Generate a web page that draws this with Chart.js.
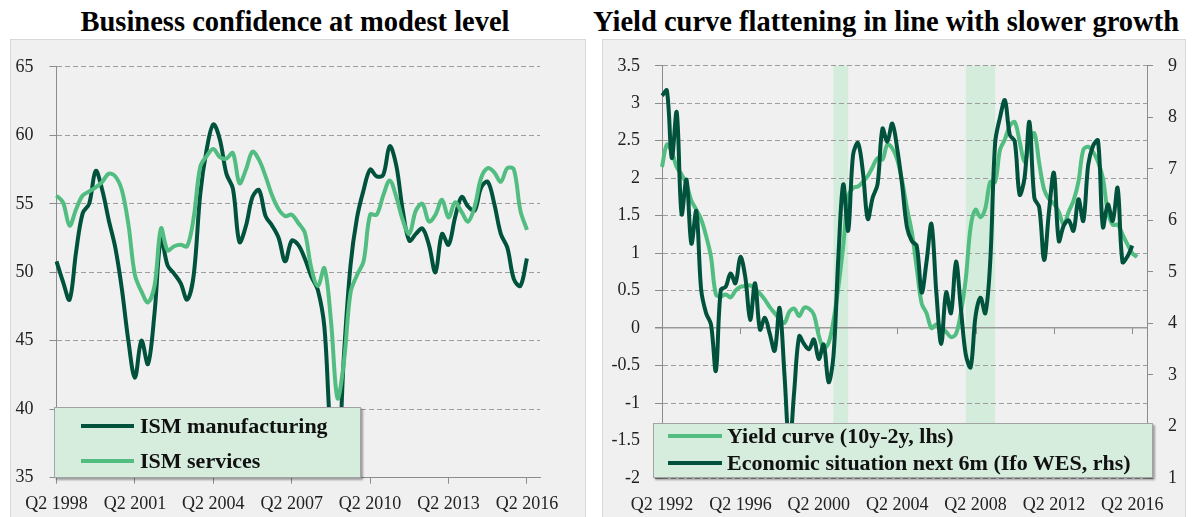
<!DOCTYPE html>
<html>
<head>
<meta charset="utf-8">
<script src="https://cdn.jsdelivr.net/npm/chart.js@4.4.1/dist/chart.umd.min.js"></script>
<style>
  body { margin: 0; width: 1193px; height: 517px; background: #fff; position: relative; overflow: hidden; font-family: "Liberation Serif", serif; }
  .title { position: absolute; top: 8px; font-size: 28.5px; line-height: 28.5px; font-weight: bold; color: #000; white-space: nowrap; transform: translateX(-50%); }
  .panel { position: absolute; background: #f0f0f0; border: 1px solid #d9d9d9; }
  .panel canvas { position: absolute; left: 0; top: 0; }
  .legend { position: absolute; background: #d6ecdd; border: 1px solid #a3a3a3; box-shadow: 2px 2px 2px rgba(0,0,0,0.35); box-sizing: border-box; }
  .legend .row { position: absolute; left: 0; height: 26px; line-height: 26px; white-space: nowrap; font-size: 22px; font-weight: bold; color: #111; }
  .legend .swatch { position: absolute; top: 11px; height: 4px; }
  .legend .text { position: absolute; top: 0; }
</style>
</head>
<body>

<div class="title" style="left:295px">Business confidence at modest level</div>
<div class="title" style="left:886px">Yield curve flattening in line with slower growth</div>

<div class="panel" style="left:10px; top:39px; width:574px; height:478px;">
  <canvas id="ismChart" width="574" height="477"></canvas>
</div>
<div class="panel" style="left:602px; top:39px; width:582px; height:478px;">
  <canvas id="wesChart" width="582" height="477"></canvas>
</div>

<div class="legend" id="ismLegend" style="left:54px; top:407px; width:307px; height:71px;"></div>
<div class="legend" id="wesLegend" style="left:653px; top:423px; width:500px; height:55px;"></div>

<script>
const DARK = '#00523d';
const LIGHT = '#52bd80';
const GRID = '#9d9d9d';
const AXIS = '#8c8c8c';
const TICK_TEXT = '#222';

function quarterLabels(year, quarter, count) {
  const out = [];
  for (let i = 0; i < count; i++) {
    out.push('Q' + quarter + ' ' + year);
    quarter++;
    if (quarter > 4) { quarter = 1; year++; }
  }
  return out;
}

// left chart: ISM, quarterly from Q2 1998
const ismQuarters = quarterLabels(1998, 2, 75);
const ismTickLabels = ['Q2 1998', 'Q2 2001', 'Q2 2004', 'Q2 2007', 'Q2 2010', 'Q2 2013', 'Q2 2016'];
const ismManufacturing = [
  50.8, 49.3, 48.0, 51.5, 54.3, 55.0, 57.4, 56.0, 53.8, 51.8,
  48.8, 45.0, 42.3, 45.0, 43.3, 47.0, 52.5, 50.5, 49.9, 49.2,
  48.0, 49.8, 55.7, 59.0, 60.8, 59.7, 57.2, 56.1, 52.2, 53.4,
  55.5, 56.0, 54.1, 53.4, 52.5, 50.8, 52.3, 52.0, 51.0, 49.7,
  48.7, 46.0, 38.0, 35.5, 44.0, 50.5, 54.0, 56.0, 57.5, 57.0,
  57.1, 59.2, 57.8, 54.5, 52.3, 52.8, 53.2, 52.0, 50.0, 52.8,
  52.0, 54.0, 55.5, 54.8, 54.5, 56.2, 56.6, 55.0, 52.8, 51.8,
  49.5, 49.0, 51.0
];
const ismServices = [
  55.6, 55.1, 53.4, 54.6, 55.6, 55.9, 56.2, 56.6, 57.2, 57.0,
  56.0, 53.5, 49.8, 48.6, 47.8, 49.0, 53.2, 51.6, 51.9, 52.0,
  51.9, 54.0, 57.7, 58.5, 59.0, 58.4, 58.3, 58.7, 56.5, 57.5,
  58.8, 58.2, 57.0, 55.6, 54.6, 54.1, 54.2, 53.6, 52.9, 50.3,
  49.0, 50.3, 46.5, 40.8, 43.5, 48.5, 49.8, 50.8, 54.2, 54.2,
  55.6, 56.7, 55.5, 53.8, 52.8, 54.5, 55.0, 53.7, 54.2, 55.3,
  54.0, 55.1, 54.4, 53.7, 54.8, 56.9, 57.6, 57.3, 56.6, 57.6,
  57.5, 54.5, 53.1
];

// right chart: yield curve vs Ifo WES, quarterly from Q2 1992
const wesQuarters = quarterLabels(1992, 2, 100);
const wesTickLabels = ['Q2 1992', 'Q2 1996', 'Q2 2000', 'Q2 2004', 'Q2 2008', 'Q2 2012', 'Q2 2016'];
const recessionStart = ['Q1 2001', 'Q4 2007'];
const recessionEnd = ['Q4 2001', 'Q2 2009'];
const yieldCurve = [
  2.15, 2.45, 2.35, 2.15, 2.05, 1.92, 1.70, 1.58, 1.45, 1.23,
  0.95, 0.45, 0.42, 0.45, 0.41, 0.50, 0.55, 0.56, 0.57, 0.52,
  0.46, 0.38, 0.28, 0.20, 0.12, 0.07, 0.22, 0.26, 0.16, 0.27,
  0.26, 0.18, -0.10, -0.27, -0.20, 0.10, 0.55, 1.10, 1.75, 1.87,
  1.89, 1.95, 2.03, 2.15, 2.27, 2.25, 2.45, 2.40, 2.25, 1.97,
  1.60, 1.28, 0.80, 0.33, 0.20, 0.00, 0.05, 0.02, -0.05, -0.12,
  -0.08, 0.20, 0.65, 1.35, 1.58, 1.48, 1.60, 1.95, 1.95, 2.38,
  2.52, 2.70, 2.75, 2.49, 2.22, 2.45, 2.60, 2.20, 1.85, 1.72,
  1.66, 1.55, 1.38, 1.55, 1.70, 1.95, 2.38, 2.42, 2.35, 2.22,
  2.00, 1.55, 1.38, 1.38, 1.25, 1.12, 1.00, 0.95
];
const ifoWes = [
  8.42, 8.52, 7.21, 8.10, 6.12, 6.79, 5.55, 6.18, 4.65, 4.20,
  3.98, 3.08, 4.65, 4.71, 4.97, 4.78, 5.29, 4.90, 4.07, 4.78,
  3.88, 4.11, 3.80, 3.47, 4.30, 3.00, 1.60, 2.70, 3.75, 3.60,
  3.50, 3.69, 3.31, 3.59, 2.86, 3.37, 5.29, 6.70, 5.80, 7.27,
  7.50, 6.95, 6.03, 6.44, 6.70, 7.78, 7.53, 7.88, 7.40, 6.70,
  5.87, 5.60, 5.50, 4.60, 5.20, 5.93, 4.60, 3.60, 4.60, 4.20,
  5.20, 4.30, 3.40, 3.15, 4.14, 4.50, 4.20, 5.20, 7.50, 8.00,
  8.33, 7.66, 7.53, 6.50, 6.82, 7.91, 6.44, 6.25, 5.23, 6.18,
  6.92, 5.60, 5.90, 6.00, 5.80, 6.41, 5.99, 7.08, 7.45, 7.55,
  5.87, 6.31, 5.99, 6.63, 5.19, 5.30, 5.51
];

const tickFont = { family: '"Liberation Serif", serif', size: 18 };

function lineSet(label, data, color, order, axis) {
  return {
    label: label,
    data: data,
    borderColor: color,
    backgroundColor: color,
    borderWidth: 4,
    pointRadius: 0,
    tension: 0.35,
    fill: false,
    order: order,
    yAxisID: axis || 'y'
  };
}

function onlyTicks(list) {
  return function (value) {
    const lbl = this.getLabelForValue(value);
    return list.includes(lbl) ? lbl : null;
  };
}

// shaded recession bands, drawn before the grid
const bandsPlugin = {
  id: 'bands',
  beforeDraw(chart) {
    const x = chart.scales.x;
    const area = chart.chartArea;
    const ctx = chart.ctx;
    ctx.save();
    ctx.fillStyle = '#d4ecdc';
    for (let i = 0; i < recessionStart.length; i++) {
      const x1 = x.getPixelForValue(wesQuarters.indexOf(recessionStart[i]));
      const x2 = x.getPixelForValue(wesQuarters.indexOf(recessionEnd[i]));
      ctx.fillRect(x1, area.top, x2 - x1, area.bottom - area.top);
    }
    ctx.restore();
  }
};

// x tick marks sit on the zero line of the left axis
const zeroTicksPlugin = {
  id: 'zeroTicks',
  beforeDatasetsDraw(chart) {
    const x = chart.scales.x;
    const y0 = chart.scales.y.getPixelForValue(0);
    const ctx = chart.ctx;
    ctx.save();
    ctx.strokeStyle = AXIS;
    ctx.lineWidth = 1;
    wesTickLabels.forEach(l => {
      const px = Math.round(x.getPixelForValue(wesQuarters.indexOf(l))) + 0.5;
      ctx.beginPath();
      ctx.moveTo(px, y0);
      ctx.lineTo(px, y0 + 6);
      ctx.stroke();
    });
    ctx.restore();
  }
};

new Chart(document.getElementById('ismChart'), {
  type: 'line',
  data: {
    labels: ismQuarters,
    datasets: [
      lineSet('ISM manufacturing', ismManufacturing, DARK, 1),
      lineSet('ISM services', ismServices, LIGHT, 0)
    ]
  },
  options: {
    responsive: false,
    animation: false,
    layout: { padding: { top: 20.7, right: 45, left: 0, bottom: 0 } },
    plugins: { legend: { display: false }, tooltip: { enabled: false } },
    scales: {
      x: {
        ticks: { autoSkip: false, maxRotation: 0, font: tickFont, color: TICK_TEXT, padding: 10, callback: onlyTicks(ismTickLabels) },
        grid: { drawOnChartArea: false, tickLength: 6, color: AXIS },
        border: { color: AXIS, width: 1 },
        afterFit(s) { s.height = 39.3; }
      },
      y: {
        min: 35, max: 65,
        ticks: { stepSize: 5, font: tickFont, color: TICK_TEXT, padding: 16 },
        grid: {
          color: c => (c.tick && c.tick.value === 35) ? 'rgba(0,0,0,0)' : GRID,
          tickColor: AXIS, tickLength: 7, lineWidth: 1
        },
        border: { color: AXIS, width: 1, dash: [5, 3] },
        afterFit(s) { s.width = 45.5; }
      }
    }
  }
});

new Chart(document.getElementById('wesChart'), {
  type: 'line',
  data: {
    labels: wesQuarters,
    datasets: [
      lineSet('Yield curve (10y-2y, lhs)', yieldCurve, LIGHT, 1, 'y'),
      lineSet('Economic situation next 6m (Ifo WES, rhs)', ifoWes, DARK, 0, 'y1')
    ]
  },
  options: {
    responsive: false,
    animation: false,
    layout: { padding: { top: 20, right: 0, left: 0, bottom: 0 } },
    plugins: { legend: { display: false }, tooltip: { enabled: false } },
    scales: {
      x: {
        ticks: { autoSkip: false, maxRotation: 0, font: tickFont, color: TICK_TEXT, padding: 16, callback: onlyTicks(wesTickLabels) },
        grid: { display: false, drawTicks: false },
        border: { display: false },
        afterFit(s) { s.height = 39; }
      },
      y: {
        position: 'left',
        min: -2, max: 3.5,
        ticks: { stepSize: 0.5, font: tickFont, color: TICK_TEXT, padding: 15, callback: v => String(v) },
        grid: {
          color: c => (c.tick && c.tick.value === 0) ? '#9a9a9a' : GRID,
          lineWidth: c => (c.tick && c.tick.value === 0) ? 1.5 : 1,
          tickColor: AXIS, tickLength: 7
        },
        border: { color: AXIS, width: 1, dash: c => (c.tick && c.tick.value === 0) ? [] : [5, 3] },
        afterFit(s) { s.width = 59; }
      },
      y1: {
        position: 'right',
        min: 1, max: 9,
        ticks: { stepSize: 1, font: tickFont, color: TICK_TEXT, padding: 15 },
        grid: { drawOnChartArea: false, tickLength: 6, color: AXIS },
        border: { color: AXIS, width: 1 },
        afterFit(s) { s.width = 38; }
      }
    }
  },
  plugins: [bandsPlugin, zeroTicksPlugin]
});

function buildLegend(el, items, rowCenters, swatchLeft, swatchWidth, textLeft) {
  items.forEach((it, i) => {
    const row = document.createElement('div');
    row.className = 'row';
    row.style.top = (rowCenters[i] - 13) + 'px';
    const sw = document.createElement('span');
    sw.className = 'swatch';
    sw.style.left = swatchLeft + 'px';
    sw.style.width = swatchWidth + 'px';
    sw.style.background = it.color;
    const tx = document.createElement('span');
    tx.className = 'text';
    tx.style.left = textLeft + 'px';
    tx.textContent = it.label;
    row.appendChild(sw);
    row.appendChild(tx);
    el.appendChild(row);
  });
}

buildLegend(document.getElementById('ismLegend'),
  [{ label: 'ISM manufacturing', color: DARK }, { label: 'ISM services', color: LIGHT }],
  [18, 53], 26, 53, 85);
buildLegend(document.getElementById('wesLegend'),
  [{ label: 'Yield curve (10y-2y, lhs)', color: LIGHT }, { label: 'Economic situation next 6m (Ifo WES, rhs)', color: DARK }],
  [12, 39], 14, 54, 73);
</script>
</body>
</html>
